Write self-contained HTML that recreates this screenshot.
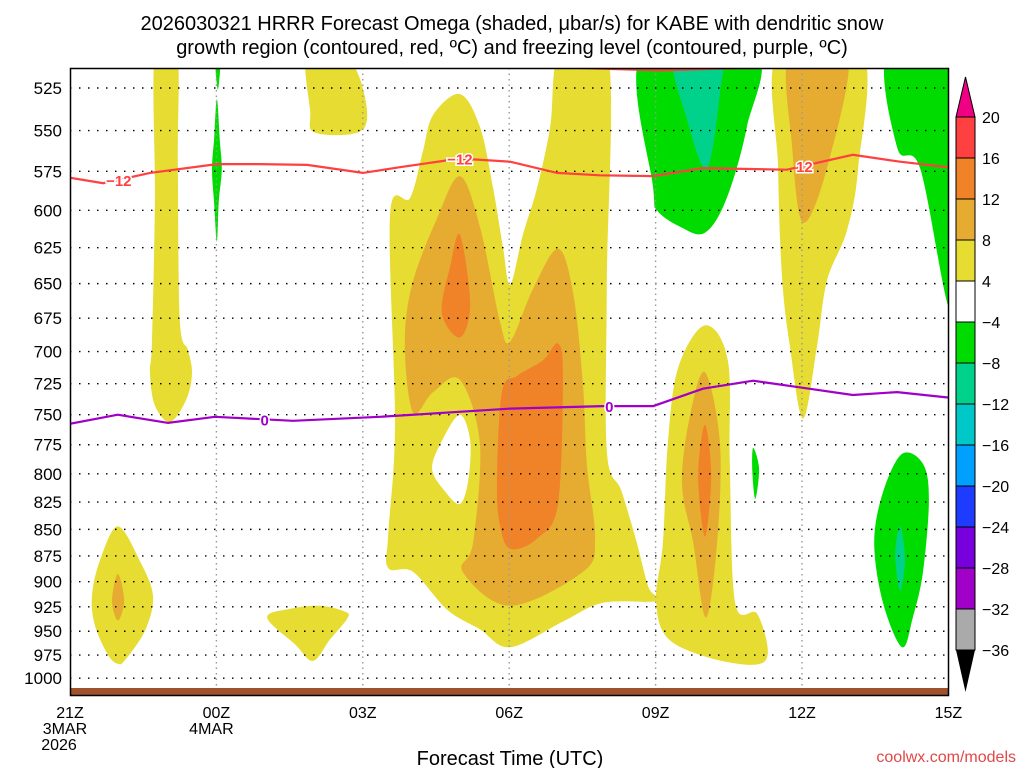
<!DOCTYPE html>
<html><head><meta charset="utf-8">
<style>
html,body{margin:0;padding:0;background:#fff;}
body{width:1024px;height:768px;overflow:hidden;font-family:"Liberation Sans",sans-serif;}
</style></head>
<body>
<svg id="chart" width="1024" height="768" xmlns="http://www.w3.org/2000/svg" font-family="Liberation Sans, sans-serif">
<g font-size="20" text-anchor="middle" fill="#000">
<text x="512" y="30">2026030321 HRRR Forecast Omega (shaded, μbar/s) for KABE with dendritic snow</text>
<text x="512" y="54">growth region (contoured, red, ºC) and freezing level (contoured, purple, ºC)</text>
</g>
<defs><clipPath id="plotclip"><rect x="70" y="68" width="878" height="627"/></clipPath></defs>
<g id="fills" clip-path="url(#plotclip)"></g>
<g id="grid"></g>
<g id="lines" clip-path="url(#plotclip)"></g>
<rect x="70" y="688" width="878" height="7" fill="#a0522d"/>
<rect x="70.5" y="68.5" width="878" height="627" fill="none" stroke="#000" stroke-width="1.5"/>
<g id="yaxis" font-size="17" text-anchor="end"></g>
<g id="xaxis" font-size="16" text-anchor="middle"></g>
<text x="510" y="765" font-size="20" text-anchor="middle">Forecast Time (UTC)</text>
<text x="1016" y="762" font-size="16" text-anchor="end" fill="#e04848">coolwx.com/models</text>
<g id="cbar"></g>
</svg>
<script>
// ---- data ----
const pressureTicks = [525,550,575,600,625,650,675,700,725,750,775,800,825,850,875,900,925,950,975,1000];
const timeTickHours = [0,3,6,9,12,15];
const timeTickLabels = [["21Z","3MAR","2026"],["00Z","4MAR"],["03Z"],["06Z"],["09Z"],["12Z"],["15Z"]];
const cbarLevels = [20,16,12,8,4,-4,-8,-12,-16,-20,-24,-28,-32,-36];
const cbarColors = ["#ff4040","#f08228","#e6ac32","#e6dc32","#ffffff","#00dc00","#00d28c","#00c8c8","#00a0ff","#1e3cff","#7800dc","#a000c8","#aaaaaa"];
// temperature contours: [hour since 21Z, hPa]
const redMinus12A = [[0,579],[0.68,582.5],[1.64,576],[3.01,570.5],[3.89,570.5],[4.86,571],[6.0,576],[6.76,572.4],[7.99,567],[9.02,569],[9.98,576],[10.86,577.5],[11.95,578],[12.97,573],[14.69,574],[16.04,564.7],[17.01,569],[17.99,572.4]];
const redMinus12B = [[9.73,513],[10.86,514],[12.09,515],[13.32,514],[14.75,513.5],[15.47,513]];
const redLabels = [[1.0,"−12"],[7.99,"−12"],[15.05,"12"]];
const purpleZero = [[0,757.5],[0.98,750],[2.01,756.7],[2.97,751.7],[4.57,755],[6.35,751.7],[9.02,745],[10.92,743],[11.95,743],[12.97,729],[14.0,722.7],[15.02,728.3],[16.04,734],[16.95,731.7],[17.99,736]];
const purpleLabels = [[3.99,"0"],[11.05,"0"]];
// omega shaded regions: [hour, hPa]
const yellowLeftColumn = [[1.74,505],[2.19,505],[2.21,568.6],[2.25,676.5],[2.42,699],[2.50,717],[2.38,738],[2.05,756],[1.74,742.5],[1.64,717],[1.68,692],[1.74,594]];
const greenSliverTop = [[2.97,505],[3.09,505],[3.03,526]];
const greenSliver00Z = [[3.01,531.4],[3.07,555.8],[3.11,573.7],[3.05,594],[3.01,621],[2.95,594],[2.91,573.7],[2.95,555.8]];
const yellowTop02Z = [[4.86,505],[5.59,505],[6.0,525],[6.0,549.4],[5.02,551.2],[4.92,537.8]];
const yellowLeftBottom = [[0.98,847.3],[1.43,879.8],[1.70,914],[1.54,949],[1.13,980.2],[0.98,984.4],[0.78,975],[0.51,944],[0.45,914],[0.61,879.8]];
const goldLeftBottom = [[0.98,892.3],[1.11,919],[0.98,939],[0.86,919]];
const yellowBottom02Z = [[4.04,936],[4.51,927],[5.12,924],[5.64,930],[5.68,937],[5.33,958.4],[4.98,981.3],[4.61,963.6]];
const yellowMain = [[7.99,528.5],[8.40,547.7],[8.67,585.6],[8.87,624.3],[9.02,650.7],[9.28,616.2],[9.57,585.6],[9.84,547.7],[10.04,505],[11.02,505],[11.0,650],[11.0,780],[11.3,815],[11.6,860],[11.85,905],[12.03,919],[10.92,921],[10.10,940],[9.02,966.7],[8.40,948],[7.73,928],[7.03,890.4],[6.52,886.6],[6.52,854.8],[6.66,758.3],[6.56,602.7],[6.97,591.9],[7.23,562.8],[7.44,540.7]];
const goldMain = [[7.99,578.1],[8.40,610.8],[8.81,677.3],[9.02,692.4],[9.49,653.7],[10.0,625.7],[10.31,656.6],[10.51,725],[10.59,791.4],[10.76,858.6],[10.51,890.4],[9.02,924],[8.05,890.4],[8.26,862.5],[8.40,774.2],[7.99,722],[7.44,731.7],[7.03,748.3],[6.86,695.5],[7.01,650.7],[7.52,605.4]];
const whiteHole = [[7.99,750],[8.20,771.7],[8.16,806.2],[7.99,826.8],[7.68,815.2],[7.42,795.7],[7.62,771.7]];
const orangeLeft = [[7.99,616.2],[8.20,664.7],[7.99,689.4],[7.62,671.3],[7.79,637.8]];
const orangeRight = [[10.0,693.9],[10.10,718.9],[10.0,826.8],[9.57,858.6],[9.02,868.3],[8.81,845.5],[8.75,808.9],[8.85,731.7],[9.16,718.9],[9.69,706.8]];
const greenTop10Z = [[11.72,505],[11.95,585.6],[12.03,600],[12.5,610.8],[13.01,614.9],[13.46,592],[13.87,547.7],[14.04,505]];
const tealTop10Z = [[12.36,505],[13.32,505],[13.32,527.3],[13.05,573.1],[12.64,543]];
const yellow12Z = [[14.51,505],[16.23,505],[16.15,573.1],[15.92,613.5],[15.51,648],[15.31,695.5],[15.02,753.3],[14.75,695.5],[14.59,644.9],[14.51,573.1]];
const gold12Z = [[14.75,505],[15.94,505],[15.51,573.1],[15.02,608.1],[14.80,560.3]];
const greenRightTop = [[16.76,505],[16.95,560.3],[17.42,573.1],[17.99,665.4],[18.3,665.4],[18.3,505]];
const yellow10Z = [[13.01,680.3],[13.48,706.8],[13.52,791.4],[13.63,921],[14.08,932],[14.30,972.9],[14.0,985.4],[13.05,977.1],[12.23,956.2],[12.01,917],[12.15,862.5],[12.25,774.2],[12.46,712.9]];
const gold10Z = [[13.01,715.9],[13.32,774.2],[13.26,862.5],[13.03,936],[12.77,862.5],[12.54,808.9],[12.70,751.7]];
const orange10Z = [[13.01,758.3],[13.14,801.8],[13.01,856.7],[12.87,801.8]];
const greenSliver11Z = [[14.0,777.6],[14.12,795.7],[14.04,822.3],[13.98,795.7]];
const greenBottomRight = [[17.05,782.8],[17.48,791.4],[17.60,823.2],[17.48,890.4],[17.27,936],[17.05,966.7],[16.66,921],[16.48,862.5],[16.66,816.1]];
const tealBottomRight = [[17.01,847.3],[17.11,878.1],[17.01,909],[16.91,874]];

// ---- axes ----
const X0=70, PXH=48.8;
function xOf(h){return X0+PXH*h;}
function yOf(p){return 88+916*Math.log(p/525);}
const NS="http://www.w3.org/2000/svg";
function mk(tag,attrs,parent){const e=document.createElementNS(NS,tag);for(const k in attrs)e.setAttribute(k,attrs[k]);parent.appendChild(e);return e;}
function smoothClosed(pts){
  const P=pts.map(d=>[xOf(d[0]),yOf(d[1])]);const n=P.length;let s="M"+P[0][0].toFixed(1)+","+P[0][1].toFixed(1);
  for(let i=0;i<n;i++){const p0=P[(i-1+n)%n],p1=P[i],p2=P[(i+1)%n],p3=P[(i+2)%n];
    const c1=[p1[0]+(p2[0]-p0[0])/6,p1[1]+(p2[1]-p0[1])/6],c2=[p2[0]-(p3[0]-p1[0])/6,p2[1]-(p3[1]-p1[1])/6];
    s+="C"+c1[0].toFixed(1)+","+c1[1].toFixed(1)+" "+c2[0].toFixed(1)+","+c2[1].toFixed(1)+" "+p2[0].toFixed(1)+","+p2[1].toFixed(1);}
  return s+"Z";
}
function openLine(pts){return pts.map((d,i)=>(i?"L":"M")+xOf(d[0]).toFixed(1)+","+yOf(d[1]).toFixed(1)).join("");}

const fills=document.getElementById("fills");
const regions=[
 [yellowLeftColumn,"#e6dc32","yellow-column-left"],[yellowTop02Z,"#e6dc32","yellow-top-02z"],
 [yellowLeftBottom,"#e6dc32","yellow-blob-left-bottom"],[goldLeftBottom,"#e6ac32","gold-blob-left-bottom"],
 [yellowBottom02Z,"#e6dc32","yellow-blob-02z"],[yellowMain,"#e6dc32","yellow-main-region"],
 [goldMain,"#e6ac32","gold-main-region"],[whiteHole,"#ffffff","weak-omega-hole"],
 [orangeLeft,"#f08228","orange-core-left"],[orangeRight,"#f08228","orange-core-right"],
 [greenSliverTop,"#00dc00","green-sliver-top"],[greenSliver00Z,"#00dc00","green-sliver-00z"],
 [greenTop10Z,"#00dc00","green-region-10z"],[tealTop10Z,"#00d28c","teal-region-10z"],
 [yellow12Z,"#e6dc32","yellow-column-12z"],[gold12Z,"#e6ac32","gold-column-12z"],
 [greenRightTop,"#00dc00","green-region-right-top"],[yellow10Z,"#e6dc32","yellow-blob-10z"],
 [gold10Z,"#e6ac32","gold-blob-10z"],[orange10Z,"#f08228","orange-core-10z"],
 [greenSliver11Z,"#00dc00","green-sliver-11z"],[greenBottomRight,"#00dc00","green-blob-right-bottom"],
 [tealBottomRight,"#00d28c","teal-core-right-bottom"]];
regions.forEach(r=>{
  const e=mk("path",{d:smoothClosed(r[0]),fill:r[1]},fills);
  
  
});

// grid
const grid=document.getElementById("grid");
pressureTicks.forEach(p=>{
  const e=mk("line",{x1:70,x2:948,y1:yOf(p),y2:yOf(p),stroke:"#000","stroke-width":1.4,"stroke-dasharray":"1.5 7.5"},grid);
  
  
});
timeTickHours.slice(1).forEach(h=>{
  const e=mk("line",{x1:xOf(h),x2:xOf(h),y1:68,y2:695,stroke:"#999","stroke-width":1.4,"stroke-dasharray":"1.5 4"},grid);
  
  
});

// contours
const lines=document.getElementById("lines");
[[redMinus12A,"#ff4040","dendritic-contour-minus12"],[redMinus12B,"#ff4040","dendritic-contour-top"],[purpleZero,"#a000c8","freezing-level-contour"]].forEach(l=>{
  const e=mk("path",{d:openLine(l[0]),fill:"none",stroke:l[1],"stroke-width":2.2},lines);
  
  
});
function labelAt(pts,h){for(let i=0;i<pts.length-1;i++){if(h>=pts[i][0]&&h<=pts[i+1][0]){const t=(h-pts[i][0])/(pts[i+1][0]-pts[i][0]);return pts[i][1]+t*(pts[i+1][1]-pts[i][1]);}}return pts[0][1];}
redLabels.forEach(l=>{
  const y=yOf(labelAt(redMinus12A,l[0]));
  const e=mk("text",{x:xOf(l[0]),y:y+6,"font-size":15,"font-weight":"bold",fill:"#ff4040","text-anchor":"middle",stroke:"#fff","stroke-width":3,"paint-order":"stroke"},lines);
  e.textContent=l[1];
  
  
});
purpleLabels.forEach(l=>{
  const y=yOf(labelAt(purpleZero,l[0]));
  const e=mk("text",{x:xOf(l[0]),y:y+6,"font-size":15,"font-weight":"bold",fill:"#a000c8","text-anchor":"middle",stroke:"#fff","stroke-width":3,"paint-order":"stroke"},lines);
  e.textContent=l[1];
  
  
});

// y axis
const ya=document.getElementById("yaxis");
pressureTicks.forEach(p=>{
  const e=mk("text",{x:62,y:yOf(p)+6},ya);e.textContent=p;
  
  
});
// x axis
const xa=document.getElementById("xaxis");
timeTickLabels.forEach((lab,i)=>{
  const h=i*3;
  lab.forEach((t,j)=>{
    const e=mk("text",{x:xOf(h)+(j>0?(t==="2026"?-11:-5):0),y:718+j*16},xa);e.textContent=t;
    
    
  });
});

// colorbar
const cb=document.getElementById("cbar");
const CBX=956,CBW=19,CBY=117,CBH=41;
const cbTop=mk("polygon",{points:`${CBX},${CBY} ${CBX+CBW},${CBY} ${CBX+CBW/2},${CBY-40}`,fill:"#f00082",stroke:"#000","stroke-width":1},cb);


cbarColors.forEach((c,i)=>{
  const e=mk("rect",{x:CBX,y:CBY+i*CBH,width:CBW,height:CBH,fill:c,stroke:"#000","stroke-width":1},cb);
  
  
});
const yb=CBY+cbarColors.length*CBH;
const cbBot=mk("polygon",{points:`${CBX},${yb} ${CBX+CBW},${yb} ${CBX+CBW/2},${yb+42}`,fill:"#000"},cb);


cbarLevels.forEach((v,i)=>{
  const e=mk("text",{x:982,y:CBY+i*CBH+6,"font-size":16},cb);
  e.textContent=(v<0?"−":"")+Math.abs(v);
  
  
});
</script>
</body></html>
